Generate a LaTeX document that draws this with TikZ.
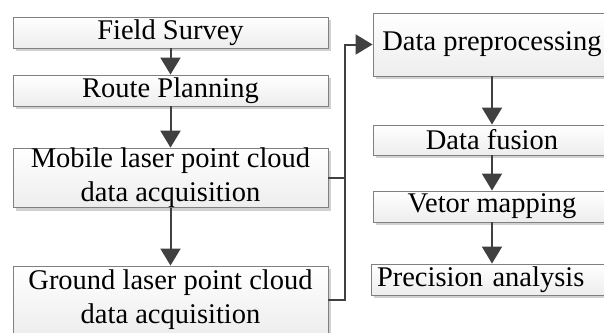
\documentclass[tikz,border=0pt]{standalone}
\usepackage{fontspec}
\setmainfont{Liberation Serif}
\usetikzlibrary{arrows.meta,shadows}
\definecolor{arrowc}{HTML}{404040}
\definecolor{edgec}{HTML}{808080}
\tikzset{
  box/.style={draw=edgec, line width=0.9pt, top color=white, bottom color=gray!14,
    drop shadow={shadow xshift=3pt, shadow yshift=-3pt, fill=gray!45, opacity=0.8},
    inner sep=0pt, align=center, font=\fontsize{28.5}{34}\selectfont},
  flow/.style={draw=arrowc, line width=2pt, -{Triangle[width=20pt,length=17pt]}},
  conn/.style={draw=arrowc, line width=2pt},
}
\begin{document}
\begin{tikzpicture}[x=1pt,y=-1pt]
\useasboundingbox (0,0) rectangle (604,332);
\clip (0,0) rectangle (604,332);
% left column
\node[box, minimum width=315pt, minimum height=31pt] (fs) at (170.5,32.5) {Field Survey};
\node[box, minimum width=315pt, minimum height=31pt] (rp) at (170.5,90.5) {Route Planning};
\node[box, minimum width=315pt, minimum height=58pt] (mob) at (170.5,178) {Mobile laser point cloud\\data acquisition};
\node[box, minimum width=315pt, minimum height=68pt] (gr) at (170.5,300) {Ground laser point cloud\\data acquisition};
% right column
\node[box, minimum width=238pt, minimum height=63pt] (dp) at (492,44.5) {Data preprocessing};
\node[box, minimum width=238pt, minimum height=30pt] (df) at (492,140) {Data fusion};
\node[box, minimum width=238pt, minimum height=31pt] (vm) at (492,206.5) {Vetor mapping};
\node[box, minimum width=240pt, minimum height=31pt, text width=228pt, inner xsep=6pt, align=left] (pa) at (491,279.5) {Precision analysis};
% junction
\coordinate (jx) at (345,0);
% arrows
\draw[flow] (fs.south) -- (rp.north);
\draw[flow] (rp.south) -- (mob.north);
\draw[flow] (mob.south) -- (gr.north);
\draw[conn] (mob.east) -- (mob.east -| jx);
\draw[flow] (gr.east) -- (gr.east -| jx) |- (dp.west);
\draw[flow] (dp.south) -- (df.north);
\draw[flow] (df.south) -- (vm.north);
\draw[flow] (vm.south) -- (pa.north -| vm.south);
\end{tikzpicture}
\end{document}
